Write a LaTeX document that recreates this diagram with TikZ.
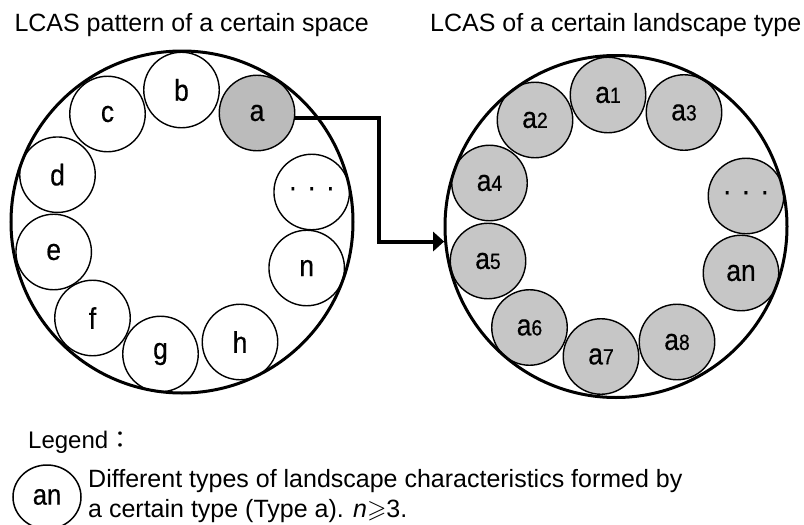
\documentclass[tikz,border=0pt]{standalone}
\usepackage{fontspec}
\usepackage{amssymb}
\setmainfont{Liberation Sans}
\newfontfamily\lblfont[FakeStretch=0.88,FakeBold=0.4]{Liberation Sans}
\newfontfamily\cjkfont{Noto Sans CJK JP}
\usetikzlibrary{shapes.geometric,arrows.meta}
\definecolor{fillA}{RGB}{187,187,187}
\definecolor{fillB}{RGB}{198,198,198}
\newcommand\smdigit[1]{{\fontsize{22}{22}\selectfont #1}}
\begin{document}
\begin{tikzpicture}[x=1pt,y=-1pt,
  big/.style={circle,draw,line width=3pt,minimum size=342pt,inner sep=0pt},
  small/.style={circle,draw,line width=1.4pt,minimum size=75.5pt,inner sep=0pt,
    font=\lblfont\fontsize{30}{30}\selectfont},
  sel/.style={small,fill=fillA},
  sub/.style={small,fill=fillB},
  titletext/.style={anchor=base west,inner sep=0pt,font=\fontsize{25}{30}\selectfont},
  legtext/.style={anchor=base west,inner sep=0pt,font=\fontsize{25}{30}\selectfont},
  conn/.style={line width=4pt,-{Triangle[length=11pt,width=19pt]}}
]
\useasboundingbox (0,0) rectangle (804,525);

% titles
\node[titletext] (t1) at (14.3,31.7) {LCAS pattern of a certain space};
\node[titletext] (t2) at (430,31.7) {LCAS of a certain landscape type};

% left small circles
\node[sel]   (a) at (257,113) {a};
\node[small] (b) at (181.5,90) {b};
\node[small] (c) at (107.5,114) {c};
\node[small] (d) at (57.5,174.7) {d};
\node[small] (e) at (53.7,252) {e};
\node[small] (f) at (92.5,318) {f};
\node[small] (g) at (160.5,354) {g};
\node[small] (h) at (240,342) {h};
\node[small] (n) at (306.7,268) {n};
\node[small] (ldots) at (311.7,192) {·\hspace{10pt}·\hspace{10pt}·};

% right small circles
\node[sub] (a1) at (608,95) {a\smdigit{1}};
\node[sub] (a2) at (535,120) {a\smdigit{2}};
\node[sub] (a3) at (684,112.5) {a\smdigit{3}};
\node[sub] (a4) at (489.5,183) {a\smdigit{4}};
\node[sub] (a5) at (488,261) {a\smdigit{5}};
\node[sub] (a6) at (529.5,327.5) {a\smdigit{6}};
\node[sub] (a7) at (601,356.5) {a\smdigit{7}};
\node[sub] (a8) at (677,342) {a\smdigit{8}};
\node[sub] (rdots) at (746,196) {·\hspace{10pt}·\hspace{10pt}·};
\node[sub] (an) at (741,273) {an};

% big circles
\node[big] (lbig) at (182,222) {};
\node[big] (rbig) at (616,226.5) {};

% connector
\draw[conn] (a.-7) -- ++(84,0) |- (rbig.185.5);

% legend
\node[anchor=base west,inner sep=0pt,font=\fontsize{24}{24}\selectfont] (legtitle) at (28,448) {Legend{\cjkfont ：}};
\node[ellipse,draw,line width=1.5pt,minimum width=68pt,minimum height=64pt,inner sep=0pt,
  font=\lblfont\fontsize{29}{29}\selectfont] (legkey) at (47,497) {an};
\node[legtext] (leg1) at (88,487) {Different types of landscape characteristics formed by};
\node[legtext] (leg2) at (88,517) {a certain type (Type a). \textit{n}$\geqslant$3.};
\end{tikzpicture}
\end{document}
